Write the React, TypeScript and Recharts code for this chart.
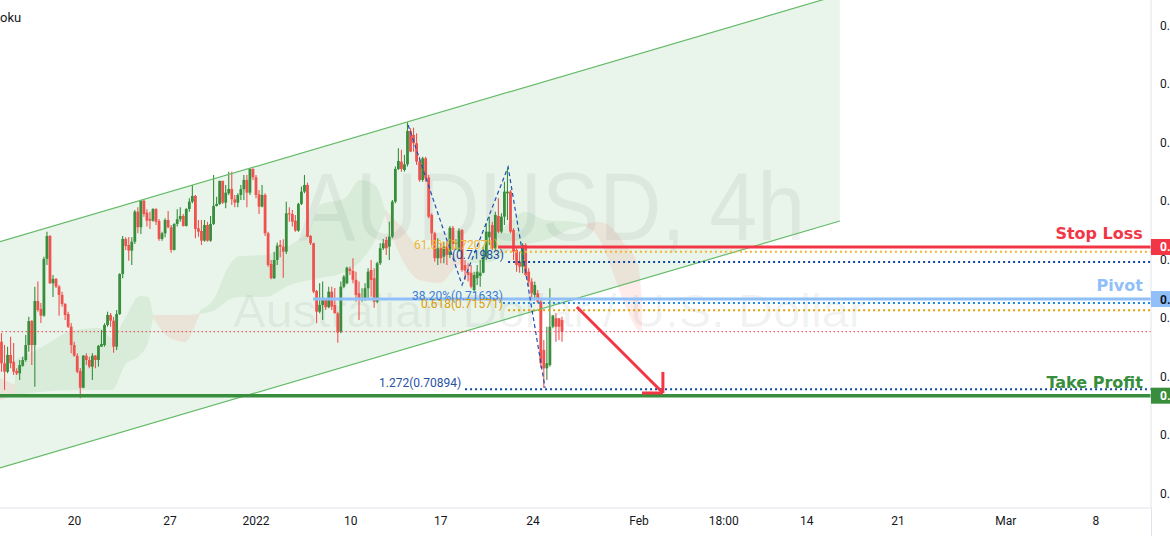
import React from 'react';
import { ComposedChart, Bar, Area, Line, XAxis, YAxis, ReferenceLine, ReferenceDot } from 'recharts';

const W = 1170;
const H = 536;
const X_MIN = -0.5;
const X_MAX = 379.4;
const Y_MIN = 0.6988;
const Y_MAX = 0.74222;

const GREEN = '#388e3c';
const RED = '#ef5350';

// ---- candles (AUDUSD 4h) ----
const OPEN = [
  0.71301, 0.71117, 0.71045, 0.71188, 0.71131, 0.71051, 0.71031, 0.71096, 0.71145, 0.71273,
  0.71478, 0.71273, 0.71649, 0.71581, 0.71524, 0.72009, 0.72205, 0.71801, 0.71838, 0.71772,
  0.71701, 0.71624, 0.71538, 0.71430, 0.71273, 0.71182, 0.71051, 0.70908, 0.71182, 0.71145,
  0.71088, 0.71182, 0.71145, 0.71259, 0.71273, 0.71444, 0.71530, 0.71481, 0.71259, 0.71538,
  0.71880, 0.72180, 0.72128, 0.72080, 0.72156, 0.72413, 0.72280, 0.72507, 0.72404, 0.72351,
  0.72336, 0.72436, 0.72333, 0.72180, 0.72228, 0.72342, 0.72280, 0.72086, 0.72308, 0.72348,
  0.72376, 0.72291, 0.72436, 0.72498, 0.72547, 0.72271, 0.72248, 0.72165, 0.72299, 0.72165,
  0.72308, 0.72462, 0.72479, 0.72676, 0.72490, 0.72570, 0.72607, 0.72519, 0.72490, 0.72556,
  0.72605, 0.72684, 0.72575, 0.72778, 0.72707, 0.72561, 0.72456, 0.72556, 0.72228, 0.71966,
  0.71844, 0.72000, 0.72128, 0.72114, 0.72071, 0.72399, 0.72393, 0.72336, 0.72251, 0.72479,
  0.72584, 0.72641, 0.72205, 0.72143, 0.71735, 0.71558, 0.71615, 0.71658, 0.71596, 0.71729,
  0.71615, 0.71544, 0.71387, 0.71772, 0.71801, 0.71923, 0.71906, 0.71830, 0.71715, 0.71658,
  0.71658, 0.71758, 0.71914, 0.71844, 0.71643, 0.71972, 0.72100, 0.72171, 0.72114, 0.72199,
  0.72498, 0.72778, 0.72840, 0.72769, 0.72818, 0.73103, 0.73069, 0.72998, 0.72840, 0.72684,
  0.72869, 0.72704, 0.72385, 0.72228, 0.72015, 0.72100, 0.72028, 0.72114, 0.72043, 0.72274,
  0.72137, 0.72086, 0.72257, 0.71957, 0.71900, 0.71891, 0.71743, 0.71844, 0.71863, 0.71891,
  0.72028, 0.72194, 0.72299, 0.72100, 0.72376, 0.72242, 0.72370, 0.72570, 0.72584, 0.72257,
  0.72086, 0.71985, 0.71943, 0.72128, 0.71900, 0.71815, 0.71701, 0.71715, 0.71643, 0.71231,
  0.71074, 0.71102, 0.71430, 0.71502, 0.71502, 0.71487,
];
const HIGH = [
  0.71376, 0.71273, 0.71259, 0.71344, 0.71290, 0.71074, 0.71145, 0.71173, 0.71359, 0.71515,
  0.71487, 0.71772, 0.71815, 0.71632, 0.72028, 0.72242, 0.72214, 0.71872, 0.71846, 0.71786,
  0.71729, 0.71632, 0.71558, 0.71461, 0.71301, 0.71202, 0.71077, 0.71188, 0.71202, 0.71173,
  0.71202, 0.71188, 0.71273, 0.71402, 0.71459, 0.71558, 0.71547, 0.71515, 0.71573, 0.71886,
  0.72205, 0.72194, 0.72197, 0.72194, 0.72428, 0.72451, 0.72513, 0.72513, 0.72433, 0.72413,
  0.72442, 0.72442, 0.72351, 0.72242, 0.72356, 0.72419, 0.72299, 0.72314, 0.72433, 0.72451,
  0.72393, 0.72442, 0.72528, 0.72641, 0.72556, 0.72342, 0.72342, 0.72342, 0.72327, 0.72376,
  0.72727, 0.72541, 0.72678, 0.72678, 0.72641, 0.72755, 0.72755, 0.72556, 0.72570, 0.72641,
  0.72727, 0.72727, 0.72784, 0.72784, 0.72727, 0.72598, 0.72641, 0.72570, 0.72242, 0.72000,
  0.72071, 0.72148, 0.72171, 0.72177, 0.72498, 0.72451, 0.72428, 0.72385, 0.72490, 0.72627,
  0.72727, 0.72661, 0.72214, 0.72148, 0.71744, 0.71801, 0.71815, 0.71673, 0.71772, 0.71772,
  0.71760, 0.71558, 0.71815, 0.71872, 0.71943, 0.71943, 0.72014, 0.71900, 0.71815, 0.71758,
  0.71801, 0.71929, 0.72000, 0.71929, 0.71985, 0.72143, 0.72180, 0.72199, 0.72327, 0.72513,
  0.72798, 0.72955, 0.72941, 0.72898, 0.73177, 0.73126, 0.73131, 0.73083, 0.72883, 0.72883,
  0.72883, 0.72727, 0.72399, 0.72242, 0.72186, 0.72143, 0.72156, 0.72156, 0.72291, 0.72291,
  0.72180, 0.72271, 0.72262, 0.72000, 0.71972, 0.71957, 0.71900, 0.71957, 0.72000, 0.72114,
  0.72314, 0.72370, 0.72327, 0.72413, 0.72528, 0.72399, 0.72669, 0.72784, 0.72598, 0.72271,
  0.72100, 0.72071, 0.72143, 0.72143, 0.71929, 0.71844, 0.71815, 0.71744, 0.71658, 0.71316,
  0.71430, 0.71758, 0.71530, 0.71544, 0.71502, 0.71515,
];
const LOW = [
  0.71045, 0.70889, 0.71031, 0.71074, 0.71017, 0.71017, 0.70974, 0.71088, 0.71131, 0.71216,
  0.71102, 0.70917, 0.71558, 0.71461, 0.71515, 0.71957, 0.71795, 0.71684, 0.71761, 0.71524,
  0.71601, 0.71487, 0.71419, 0.71202, 0.71173, 0.71031, 0.70818, 0.70903, 0.71102, 0.71074,
  0.70974, 0.71074, 0.71088, 0.71259, 0.71259, 0.71430, 0.71430, 0.71207, 0.71231, 0.71530,
  0.71844, 0.72086, 0.71994, 0.71957, 0.72137, 0.72228, 0.72222, 0.72370, 0.72285, 0.72265,
  0.72327, 0.72299, 0.72165, 0.72165, 0.72194, 0.72271, 0.72062, 0.72080, 0.72285, 0.72327,
  0.72285, 0.72285, 0.72413, 0.72485, 0.72186, 0.72199, 0.72128, 0.72156, 0.72156, 0.72156,
  0.72299, 0.72456, 0.72470, 0.72479, 0.72442, 0.72556, 0.72470, 0.72451, 0.72451, 0.72513,
  0.72513, 0.72451, 0.72556, 0.72684, 0.72528, 0.72393, 0.72451, 0.72205, 0.71943, 0.71835,
  0.71838, 0.71957, 0.72023, 0.71849, 0.72051, 0.72327, 0.72285, 0.72242, 0.72242, 0.72470,
  0.72570, 0.72194, 0.72128, 0.71715, 0.71459, 0.71544, 0.71487, 0.71573, 0.71587, 0.71573,
  0.71544, 0.71293, 0.71373, 0.71758, 0.71792, 0.71872, 0.71800, 0.71643, 0.71487, 0.71643,
  0.71650, 0.71658, 0.71686, 0.71592, 0.71630, 0.71957, 0.72086, 0.72043, 0.72000, 0.72186,
  0.72485, 0.72770, 0.72755, 0.72755, 0.72798, 0.72921, 0.72926, 0.72812, 0.72669, 0.72669,
  0.72669, 0.72356, 0.72128, 0.71985, 0.71957, 0.71972, 0.71972, 0.71957, 0.72017, 0.72086,
  0.72086, 0.72071, 0.71900, 0.71829, 0.71815, 0.71758, 0.71729, 0.71786, 0.71772, 0.71886,
  0.72000, 0.72128, 0.72086, 0.72086, 0.72228, 0.72228, 0.72299, 0.72342, 0.72228, 0.72000,
  0.71900, 0.71891, 0.71886, 0.71863, 0.71772, 0.71673, 0.71673, 0.71630, 0.71074, 0.70906,
  0.70974, 0.71088, 0.71416, 0.71301, 0.71316, 0.71301,
];
const CLOSE = [
  0.71117, 0.71045, 0.71188, 0.71117, 0.71045, 0.71031, 0.71102, 0.71145, 0.71273, 0.71478,
  0.71273, 0.71649, 0.71573, 0.71524, 0.72009, 0.72205, 0.71801, 0.71838, 0.71772, 0.71701,
  0.71624, 0.71530, 0.71430, 0.71273, 0.71182, 0.71045, 0.70908, 0.71182, 0.71145, 0.71088,
  0.71182, 0.71145, 0.71267, 0.71282, 0.71444, 0.71530, 0.71481, 0.71259, 0.71538, 0.71880,
  0.72180, 0.72120, 0.72080, 0.72156, 0.72413, 0.72280, 0.72507, 0.72393, 0.72336, 0.72336,
  0.72436, 0.72327, 0.72180, 0.72228, 0.72342, 0.72280, 0.72086, 0.72308, 0.72348, 0.72376,
  0.72291, 0.72436, 0.72498, 0.72547, 0.72265, 0.72242, 0.72165, 0.72299, 0.72165, 0.72308,
  0.72462, 0.72479, 0.72676, 0.72490, 0.72575, 0.72607, 0.72519, 0.72490, 0.72556, 0.72605,
  0.72684, 0.72575, 0.72778, 0.72707, 0.72556, 0.72456, 0.72556, 0.72228, 0.71957, 0.71844,
  0.72000, 0.72122, 0.72114, 0.72071, 0.72399, 0.72393, 0.72327, 0.72251, 0.72479, 0.72584,
  0.72641, 0.72199, 0.72143, 0.71729, 0.71558, 0.71615, 0.71658, 0.71596, 0.71729, 0.71601,
  0.71544, 0.71380, 0.71772, 0.71857, 0.71934, 0.71906, 0.71830, 0.71701, 0.71658, 0.71673,
  0.71758, 0.71900, 0.71829, 0.71643, 0.71972, 0.72100, 0.72143, 0.72100, 0.72199, 0.72498,
  0.72778, 0.72846, 0.72778, 0.72818, 0.73103, 0.72926, 0.72998, 0.72840, 0.72684, 0.72869,
  0.72698, 0.72370, 0.72228, 0.72015, 0.72100, 0.72015, 0.72114, 0.72043, 0.72274, 0.72137,
  0.72148, 0.72251, 0.71914, 0.71909, 0.71872, 0.71772, 0.71872, 0.71900, 0.71891, 0.72028,
  0.72242, 0.72242, 0.72100, 0.72385, 0.72242, 0.72370, 0.72584, 0.72584, 0.72242, 0.72071,
  0.71957, 0.71943, 0.72128, 0.71872, 0.71815, 0.71715, 0.71786, 0.71643, 0.71117, 0.71074,
  0.71117, 0.71430, 0.71524, 0.71430, 0.71430, 0.71387,
];

const candles = OPEN.map((o, i) => ({ i, o, h: HIGH[i], l: LOW[i], c: CLOSE[i] }));
const LAST_CLOSE = CLOSE[CLOSE.length - 1];

// ---- axes ----
const X_TICK_POS = [24.1, 55.6, 84.0, 115.3, 145.0, 175.4, 210.4, 238.4, 265.8, 295.9, 331.5, 361.2];
const X_TICK_LABELS = ['20', '27', '2022', '10', '17', '24', 'Feb', '18:00', '14', '21', 'Mar', '8'];
const Y_TICKS = [0.7, 0.705, 0.71, 0.715, 0.72, 0.725, 0.73, 0.735, 0.74];
// the price scale is cut by the right edge of the picture: only "0." is visible
const PRICE_TEXT = '0.';

// ---- drawings ----
const channelFill = [
  { i: -0.5, r: [0.70222, 0.72156] },
  { i: 276.7, r: [0.72333, 0.74267] },
];
const channelUpper = [{ i: -0.5, p: 0.72156 }, { i: 276.7, p: 0.74267 }];
const channelLower = [{ i: -0.5, p: 0.70222 }, { i: 276.7, p: 0.72333 }];

// Ichimoku cloud (green = bullish, red = bearish)
const cloudG1 = [
  { i: 4.5, r: [0.70846, 0.71145] },
  { i: 12.7, r: [0.70872, 0.71248] },
  { i: 24.3, r: [0.70889, 0.71402] },
  { i: 32.5, r: [0.70889, 0.71419] },
  { i: 36.5, r: [0.70889, 0.71333] },
  { i: 40.8, r: [0.71102, 0.71504] },
  { i: 45.7, r: [0.71188, 0.71692] },
  { i: 48.4, r: [0.71299, 0.71684] },
  { i: 50.0, r: [0.71504, 0.7153] },
];
const cloudR0 = [
  { i: -0.5, r: [0.70803, 0.70991] },
  { i: 4.5, r: [0.70846, 0.70932] },
];
const cloudR1 = [
  { i: 50.0, r: [0.71504, 0.7153] },
  { i: 55.6, r: [0.71333, 0.7153] },
  { i: 60.6, r: [0.71299, 0.7153] },
  { i: 64.9, r: [0.71504, 0.71538] },
  { i: 65.5, r: [0.71538, 0.71555] },
];
const cloudG2 = [
  { i: 65.5, r: [0.71538, 0.71573] },
  { i: 70.5, r: [0.71573, 0.71684] },
  { i: 74.8, r: [0.71658, 0.7194] },
  { i: 78.7, r: [0.71684, 0.72034] },
  { i: 87.0, r: [0.71684, 0.72043] },
  { i: 95.2, r: [0.71786, 0.72128] },
  { i: 101.8, r: [0.71829, 0.72273] },
  { i: 105.1, r: [0.71846, 0.7247] },
  { i: 113.4, r: [0.71897, 0.7253] },
  { i: 118.3, r: [0.71983, 0.72684] },
  { i: 123.3, r: [0.72171, 0.72641] },
  { i: 126.6, r: [0.72384, 0.72427] },
];
const cloudR2 = [
  { i: 126.6, r: [0.72384, 0.72427] },
  { i: 131.5, r: [0.72043, 0.72299] },
  { i: 138.1, r: [0.71829, 0.72111] },
  { i: 144.7, r: [0.71803, 0.72085] },
  { i: 150.7, r: [0.71957, 0.72043] },
  { i: 153.0, r: [0.71974, 0.71983] },
];
const cloudG3 = [
  { i: 153.0, r: [0.71974, 0.71983] },
  { i: 161.2, r: [0.71983, 0.72171] },
  { i: 167.8, r: [0.72085, 0.72325] },
  { i: 172.8, r: [0.72128, 0.7241] },
  { i: 179.4, r: [0.72171, 0.72342] },
  { i: 189.3, r: [0.72273, 0.72325] },
  { i: 192.6, r: [0.7229, 0.72307] },
];
const cloudR3 = [
  { i: 192.6, r: [0.7229, 0.72307] },
  { i: 197.5, r: [0.72171, 0.72325] },
  { i: 201.5, r: [0.71914, 0.72273] },
  { i: 205.8, r: [0.71615, 0.72128] },
  { i: 210.1, r: [0.71402, 0.71957] },
  { i: 211.4, r: [0.71385, 0.71658] },
];

const zigzag = [
  { i: 134.2, p: 0.73154 },
  { i: 152.0, p: 0.71786 },
  { i: 167.2, p: 0.72795 },
  { i: 179.4, p: 0.70906 },
];
const arrowShaft = [{ i: 189.9, p: 0.71598 }, { i: 218.0, p: 0.70872 }];
const arrowHeadV = [{ i: 218.3, p: 0.71043 }, { i: 218.3, p: 0.70863 }];
const arrowHeadH = [{ i: 211.4, p: 0.70863 }, { i: 218.3, p: 0.70863 }];

const STOP_LOSS = 0.72111;
const PIVOT = 0.71666;
const TAKE_PROFIT = 0.7084;
const FIB_VALUES = [0.72071, 0.71983, 0.71633, 0.71571, 0.70894];
const FIB_TEXTS = ['61.8%(0.72071)', '(0.71983)', '38.20%(0.71633)', '0.618(0.71571)', '1.272(0.70894)'];

const FONT = 'Roboto, "Liberation Sans", Arial, sans-serif';

function CandleShape(props: any) {
  const { x, y, width, height, payload } = props;
  if (!payload || x == null || y == null) return null;
  const top = Math.min(y, y + height);
  const bot = Math.max(y, y + height);
  const span = payload.h - payload.l;
  const k = span > 0 ? (bot - top) / span : 0;
  const py = (v: number) => top + (payload.h - v) * k;
  const cx = x + width / 2;
  const up = payload.c >= payload.o;
  const col = up ? GREEN : RED;
  const yo = py(payload.o);
  const yc = py(payload.c);
  const bt = Math.min(yo, yc);
  const bh = Math.max(1, Math.abs(yo - yc));
  return (
    <g>
      <line x1={cx} x2={cx} y1={top} y2={bot} stroke={col} strokeWidth={1.1} />
      <rect x={cx - 1.4} y={bt} width={2.8} height={bh} fill={col} />
    </g>
  );
}

function XTick(props: any) {
  const { x, payload } = props;
  const idx = X_TICK_POS.indexOf(payload.value);
  const label = idx >= 0 ? X_TICK_LABELS[idx] : '';
  return (
    <text x={x} y={525} textAnchor="middle" fontSize={12} fill="#131722" fontFamily={FONT}>
      {label}
    </text>
  );
}

function YTick(props: any) {
  const { y } = props;
  return (
    <text x={1160} y={y + 4} textAnchor="start" fontSize={12} fill="#131722" fontFamily={FONT}>
      {PRICE_TEXT}
    </text>
  );
}

const fibShape = (text: string, color: string) => (p: any) => (
  <text x={p.cx} y={p.cy - 2.5} textAnchor="end" fontSize={12} fill={color} fontFamily={FONT}>
    {text}
  </text>
);

const sideLabel = (text: string, color: string) => (p: any) => (
  <text x={p.cx} y={p.cy - 8} textAnchor="end" fontSize={16} fontWeight="bold" fill={color} fontFamily='"DejaVu Sans", Verdana, sans-serif'>
    {text}
  </text>
);

const priceBox = (bg: string, fg: string) => (p: any) => (
  <g>
    <rect x={p.cx} y={p.cy - 8} width={19} height={16} fill={bg} />
    <text x={p.cx + 9} y={p.cy + 4.5} fontSize={12} fontWeight="bold" fill={fg} fontFamily={FONT}>
      {PRICE_TEXT}
    </text>
  </g>
);

const FIB_STYLE = [
  { anchor: 163.9, color: '#f5b331' },
  { anchor: 165.8, color: '#1c4fa0' },
  { anchor: 165.5, color: '#3d7dd8' },
  { anchor: 165.5, color: '#dc9a05' },
  { anchor: 151.7, color: '#2952a3' },
];

export default function App() {
  return (
    <div style={{ position: 'absolute', left: 0, top: 0, width: W, height: H, background: '#ffffff', overflow: 'hidden' }}>
      <svg width={W} height={H} style={{ position: 'absolute', left: 0, top: 0 }}>
        <text x={298} y={240} fontSize={96} fontFamily='"Liberation Sans", Arial, sans-serif' fill="rgba(40,50,60,0.065)" textLength={507} lengthAdjust="spacingAndGlyphs">
          AUDUSD, 4h
        </text>
        <text x={233} y={327} fontSize={47} fontFamily='"Liberation Sans", Arial, sans-serif' fill="rgba(40,50,60,0.065)" textLength={632} lengthAdjust="spacingAndGlyphs">
          Australian Dollar / U.S. Dollar
        </text>
      </svg>
      <div style={{ position: 'absolute', left: 0, top: 0 }}>
        <ComposedChart width={W} height={H} data={candles} margin={{ top: 0, right: 0, bottom: 0, left: 0 }}>
          <XAxis
            dataKey="i"
            type="number"
            domain={[X_MIN, X_MAX]}
            allowDataOverflow
            ticks={X_TICK_POS}
            interval={0}
            height={28}
            tickLine={false}
            axisLine={{ stroke: '#e0e3eb' }}
            tick={XTick}
          />
          <YAxis
            orientation="right"
            type="number"
            domain={[Y_MIN, Y_MAX]}
            allowDataOverflow
            ticks={Y_TICKS}
            interval={0}
            width={19}
            tickLine={false}
            axisLine={{ stroke: '#e0e3eb' }}
            tick={YTick}
          />
          <Area data={channelFill} dataKey="r" type="linear" stroke="none" fill="#4caf50" fillOpacity={0.12} isAnimationActive={false} />
          <Area data={cloudG1} dataKey="r" type="monotone" stroke="none" fill="#43a047" fillOpacity={0.1} isAnimationActive={false} />
          <Area data={cloudG2} dataKey="r" type="monotone" stroke="none" fill="#43a047" fillOpacity={0.1} isAnimationActive={false} />
          <Area data={cloudG3} dataKey="r" type="monotone" stroke="none" fill="#43a047" fillOpacity={0.1} isAnimationActive={false} />
          <Area data={cloudR0} dataKey="r" type="monotone" stroke="none" fill="#f44336" fillOpacity={0.1} isAnimationActive={false} />
          <Area data={cloudR1} dataKey="r" type="monotone" stroke="none" fill="#f44336" fillOpacity={0.1} isAnimationActive={false} />
          <Area data={cloudR2} dataKey="r" type="monotone" stroke="none" fill="#f44336" fillOpacity={0.1} isAnimationActive={false} />
          <Area data={cloudR3} dataKey="r" type="monotone" stroke="none" fill="#f44336" fillOpacity={0.1} isAnimationActive={false} />
          <Line data={channelUpper} dataKey="p" type="linear" stroke="#66bb6a" strokeWidth={1.2} dot={false} activeDot={false} isAnimationActive={false} />
          <Line data={channelLower} dataKey="p" type="linear" stroke="#66bb6a" strokeWidth={1.2} dot={false} activeDot={false} isAnimationActive={false} />

          <Bar dataKey={(d: any) => [d.l, d.h]} shape={CandleShape} barSize={3} isAnimationActive={false} />

          <ReferenceLine y={LAST_CLOSE} stroke="#f23645" strokeWidth={1} strokeDasharray="1.5 2.5" ifOverflow="visible" />
          <ReferenceLine segment={[{ x: 102.8, y: PIVOT }, { x: X_MAX, y: PIVOT }]} stroke="#90bff9" strokeWidth={3} ifOverflow="visible" />
          <ReferenceLine segment={[{ x: 163.9, y: STOP_LOSS }, { x: X_MAX, y: STOP_LOSS }]} stroke="#f23645" strokeWidth={3} ifOverflow="visible" />
          <ReferenceLine y={TAKE_PROFIT} stroke={GREEN} strokeWidth={3.5} ifOverflow="visible" />
          <ReferenceLine segment={[{ x: 164.5, y: FIB_VALUES[0] }, { x: X_MAX, y: FIB_VALUES[0] }]} stroke="#f5b331" strokeWidth={2} strokeDasharray="2 3" ifOverflow="visible" />
          <ReferenceLine segment={[{ x: 167.2, y: FIB_VALUES[1] }, { x: X_MAX, y: FIB_VALUES[1] }]} stroke="#0d47a1" strokeWidth={2} strokeDasharray="2 3" ifOverflow="visible" />
          <ReferenceLine segment={[{ x: 165.5, y: FIB_VALUES[2] }, { x: X_MAX, y: FIB_VALUES[2] }]} stroke="#1e88e5" strokeWidth={2} strokeDasharray="2 3" ifOverflow="visible" />
          <ReferenceLine segment={[{ x: 167.2, y: FIB_VALUES[3] }, { x: X_MAX, y: FIB_VALUES[3] }]} stroke="#e0a000" strokeWidth={2} strokeDasharray="2 3" ifOverflow="visible" />
          <ReferenceLine segment={[{ x: 153.0, y: FIB_VALUES[4] }, { x: X_MAX, y: FIB_VALUES[4] }]} stroke="#0d47a1" strokeWidth={2} strokeDasharray="2 3" ifOverflow="visible" />

          <Line data={zigzag} dataKey="p" type="linear" stroke="#1e4fb4" strokeWidth={1.2} strokeDasharray="4 3" dot={false} activeDot={false} isAnimationActive={false} />
          <Line data={arrowShaft} dataKey="p" type="linear" stroke="#f23645" strokeWidth={3} dot={false} activeDot={false} isAnimationActive={false} />
          <Line data={arrowHeadV} dataKey="p" type="linear" stroke="#f23645" strokeWidth={3} dot={false} activeDot={false} isAnimationActive={false} />
          <Line data={arrowHeadH} dataKey="p" type="linear" stroke="#f23645" strokeWidth={3} dot={false} activeDot={false} isAnimationActive={false} />

          {FIB_TEXTS.map((t, k) => (
            <ReferenceDot key={t} x={FIB_STYLE[k].anchor} y={FIB_VALUES[k]} r={1} ifOverflow="visible" shape={fibShape(t, FIB_STYLE[k].color)} />
          ))}
          <ReferenceDot x={376.7} y={STOP_LOSS} r={1} ifOverflow="visible" shape={sideLabel('Stop Loss', '#f23645')} />
          <ReferenceDot x={376.7} y={PIVOT} r={1} ifOverflow="visible" shape={sideLabel('Pivot', '#90bff9')} />
          <ReferenceDot x={376.7} y={TAKE_PROFIT} r={1} ifOverflow="visible" shape={sideLabel('Take Profit', GREEN)} />
          <ReferenceDot x={X_MAX} y={STOP_LOSS} r={1} ifOverflow="visible" shape={priceBox('#f23645', '#ffffff')} />
          <ReferenceDot x={X_MAX} y={PIVOT} r={1} ifOverflow="visible" shape={priceBox('#90bff9', '#131722')} />
          <ReferenceDot x={X_MAX} y={TAKE_PROFIT} r={1} ifOverflow="visible" shape={priceBox(GREEN, '#ffffff')} />
        </ComposedChart>
      </div>
      <svg width={W} height={H} style={{ position: 'absolute', left: 0, top: 0, pointerEvents: 'none' }}>
        <text x={0} y={22} fontSize={13} fill="#131722" fontFamily={FONT}>oku</text>
        <line x1={1151.5} x2={1151.5} y1={508} y2={536} stroke="#e0e3eb" strokeWidth={1} />
      </svg>
    </div>
  );
}
